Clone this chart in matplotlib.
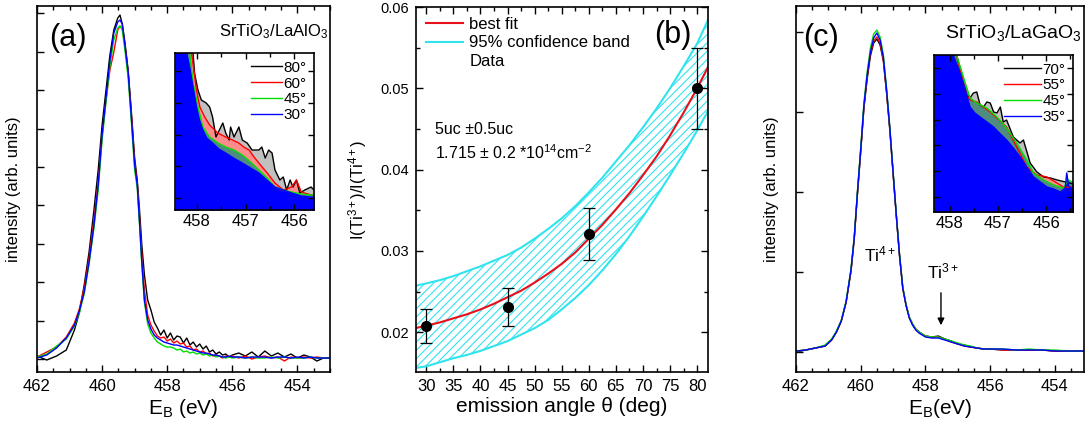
import numpy as np
import matplotlib
matplotlib.use('Agg')
import matplotlib.pyplot as plt
from matplotlib.lines import Line2D
from matplotlib.ticker import MultipleLocator, FormatStrFormatter, NullFormatter

plt.rcParams['font.family'] = ['Liberation Sans', 'DejaVu Sans']
plt.rcParams['mathtext.fontset'] = 'custom'
plt.rcParams['mathtext.rm'] = 'Liberation Sans'
plt.rcParams['mathtext.it'] = 'Liberation Sans:italic'
plt.rcParams['mathtext.bf'] = 'Liberation Sans:bold'
plt.rcParams['hatch.linewidth'] = 0.8

# ---------------- Panel (a) : SrTiO3/LaAlO3 spectra ----------------
E_a = [462.0, 461.7, 461.4, 461.1, 460.85, 460.7, 460.55, 460.4, 460.25, 460.12,
       460.0, 459.88, 459.76, 459.64, 459.52, 459.45, 459.38, 459.3, 459.2, 459.1,
       459.0, 458.92, 458.85, 458.78, 458.7, 458.6, 458.5, 458.4, 458.3, 458.2,
       458.1, 458.0, 457.9, 457.8, 457.7, 457.6, 457.5, 457.4, 457.3, 457.2,
       457.1, 457.0, 456.9, 456.8, 456.7, 456.6, 456.5, 456.4, 456.3, 456.2,
       456.1, 456.0, 455.8, 455.6, 455.4, 455.2, 455.0, 454.8, 454.6, 454.4,
       454.2, 454.0, 453.8, 453.6, 453.4, 453.2, 453.0]
I_a_80 = [16, 12, 16, 22, 42, 59, 87, 120, 162, 202, 247, 282, 317, 342, 354, 357, 348, 330, 302, 260,
          214, 192, 162, 127, 97, 72, 62, 50, 44, 37, 42, 34, 39, 32, 36, 35, 29, 34, 27, 30,
          25, 28, 23, 26, 20, 22, 18, 20, 17, 18, 15, 17, 19, 16, 20, 15, 21, 16, 19, 15,
          18, 14, 17, 15, 11, 14, 14]
I_a_60 = [15, 20, 25, 35, 49, 63, 84, 114, 152, 189, 237, 272, 302, 320, 342, 346, 344, 327, 300, 257,
          210, 189, 154, 117, 82, 57, 47, 41, 36, 34, 35, 31, 33, 29, 31, 28, 29, 25, 26, 22,
          23, 20, 21, 18, 19, 16, 17, 16, 14, 16, 15, 16, 14, 16, 13, 15, 16, 14, 15, 11,
          15, 14, 15, 14, 15, 14, 14]
I_a_45 = [15, 18, 26, 33, 46, 59, 78, 108, 144, 182, 232, 270, 306, 332, 344, 346, 342, 322, 294, 250,
          202, 184, 147, 107, 70, 48, 39, 34, 30, 28, 26, 25, 25, 24, 22, 23, 20, 21, 19, 20,
          18, 19, 17, 18, 16, 17, 15, 16, 15, 14, 15, 14, 15, 14, 15, 14, 14, 15, 14, 15,
          14, 14, 14, 15, 14, 14, 14]
I_a_30 = [14, 17, 24, 34, 47, 61, 80, 110, 147, 187, 237, 274, 312, 339, 350, 352, 348, 327, 300, 254,
          207, 187, 150, 110, 72, 52, 43, 37, 34, 32, 30, 29, 28, 27, 27, 26, 25, 24, 23, 22,
          21, 20, 19, 19, 18, 17, 17, 16, 15, 15, 16, 15, 15, 14, 15, 15, 15, 14, 15, 15,
          14, 15, 14, 15, 14, 14, 14]

# inset (a) zoom of the Ti3+ region
Ein_a_80 = [458.45, 458.08, 458.05, 457.98, 457.91, 457.81, 457.74, 457.68, 457.61, 457.54,
            457.47, 457.41, 457.34, 457.31, 457.24, 457.14, 457.07, 456.97, 456.87, 456.73,
            456.67, 456.60, 456.53, 456.46, 456.40, 456.30, 456.23, 456.16, 456.09, 456.03,
            455.96, 455.89, 455.79, 455.66, 455.6]
Iin_a_80 = [200, 157, 137, 120, 110, 107, 103, 93, 73, 80, 87, 77, 70, 83, 73, 83, 70, 67, 60, 60,
            63, 52, 60, 57, 40, 30, 33, 20, 30, 23, 30, 17, 20, 23, 20]
Ein_a_60 = [458.45, 458.11, 458.01, 457.94, 457.84, 457.74, 457.57, 457.41, 457.27, 457.14, 457.04,
            456.93, 456.83, 456.73, 456.56, 456.40, 456.23, 456.06, 455.96, 455.86, 455.66, 455.6]
Iin_a_60 = [200, 157, 120, 103, 93, 85, 77, 73, 70, 67, 63, 60, 53, 47, 37, 27, 20, 23, 30, 18, 15, 15]
Ein_a_45 = [458.45, 458.15, 458.08, 457.98, 457.88, 457.74, 457.57, 457.41, 457.24, 457.07,
            456.90, 456.73, 456.56, 456.40, 456.23, 456.06, 455.86, 455.66, 455.6]
Iin_a_45 = [200, 157, 127, 103, 83, 73, 67, 63, 60, 55, 48, 40, 32, 23, 20, 18, 16, 15, 15]
Ein_a_30 = [458.45, 458.21, 458.14, 458.08, 458.01, 457.95, 457.88, 457.80, 457.68, 457.55, 457.41,
            457.25, 457.07, 456.90, 456.73, 456.57, 456.40, 456.23, 456.06, 455.86, 455.66, 455.6]
Iin_a_30 = [200, 157, 140, 123, 103, 90, 80, 72, 67, 61, 57, 52, 47, 42, 37, 30, 23, 20, 17, 14, 13, 13]
labels_a = ['80°', '60°', '45°', '30°']

# ---------------- Panel (b) : ratio vs emission angle ----------------
theta_data = [30, 45, 60, 80]
ratio_data = [0.0208, 0.0231, 0.0321, 0.0500]
ratio_err = [0.0021, 0.0023, 0.0032, 0.0050]
theta_fit = [28, 30, 32.5, 35, 37.5, 40, 42.5, 45, 47.5, 50, 52.5, 55, 57.5, 60,
             62.5, 65, 67.5, 70, 72.5, 75, 77.5, 80, 82]
ratio_fit = [0.0205, 0.0208, 0.0212, 0.0217, 0.0222, 0.0228, 0.0235, 0.0243, 0.0251, 0.0261,
             0.0272, 0.0284, 0.0298, 0.0315, 0.0332, 0.0351, 0.0371, 0.0393, 0.0416, 0.0442,
             0.0470, 0.0500, 0.0526]
band_upper = [0.0257, 0.0260, 0.0264, 0.0269, 0.0275, 0.0281, 0.0288, 0.0295, 0.0304, 0.0315,
              0.0327, 0.0340, 0.0355, 0.0372, 0.0390, 0.0410, 0.0430, 0.0452, 0.0475, 0.0500,
              0.0527, 0.0555, 0.0584]
band_lower = [0.0156, 0.0158, 0.0163, 0.0168, 0.0172, 0.0177, 0.0183, 0.0189, 0.0197, 0.0205,
              0.0215, 0.0228, 0.0242, 0.0258, 0.0276, 0.0296, 0.0318, 0.0342, 0.0367, 0.0393,
              0.0420, 0.0448, 0.0472]

# ---------------- Panel (c) : SrTiO3/LaGaO3 spectra ----------------
E_c = [462.0, 461.7, 461.4, 461.1, 460.9, 460.75, 460.6, 460.45, 460.3, 460.2, 460.1, 460.0,
       459.9, 459.8, 459.7, 459.6, 459.5, 459.4, 459.3, 459.2, 459.1, 459.0, 458.9, 458.8,
       458.7, 458.6, 458.5, 458.4, 458.3, 458.2, 458.1, 458.0, 457.8, 457.6, 457.4, 457.2,
       457.0, 456.8, 456.6, 456.4, 456.2, 456.0, 455.6, 455.2, 454.8, 454.4, 454.0, 453.6, 453.0]
I_c_70 = [20, 22, 24, 26, 32, 40, 51, 70, 101, 133, 178, 220, 264, 293, 316, 329, 333, 327, 311, 279,
          242, 199, 156, 116, 84, 67, 55, 48, 43, 40, 38, 36, 35, 36, 33, 31, 28, 27, 25, 24,
          23, 23, 22, 22, 22, 22, 21, 21, 21]
I_c_55 = [21, 22, 24, 26, 32, 40, 51, 70, 101, 133, 179, 221, 265, 295, 318, 331, 335, 329, 312, 280,
          243, 199, 157, 117, 84, 67, 55, 48, 43, 40, 38, 36, 35, 35, 33, 30, 28, 26, 25, 24,
          23, 23, 22, 22, 22, 22, 21, 21, 21]
I_c_45 = [21, 22, 24, 27, 33, 41, 52, 71, 103, 135, 181, 224, 269, 300, 324, 338, 342, 335, 317, 284,
          245, 201, 158, 118, 85, 68, 55, 48, 43, 40, 38, 36, 35, 35, 33, 31, 29, 27, 26, 24,
          23, 23, 23, 22, 23, 22, 22, 21, 21]
I_c_35 = [21, 22, 24, 26, 32, 40, 51, 70, 102, 134, 180, 222, 267, 297, 320, 334, 339, 332, 315, 282,
          244, 200, 157, 117, 84, 67, 54, 47, 42, 39, 37, 35, 34, 34, 32, 30, 28, 26, 25, 24,
          23, 23, 23, 22, 22, 22, 21, 21, 21]

Ein_c_70 = [458.33, 457.86, 457.72, 457.65, 457.58, 457.51, 457.44, 457.37, 457.30, 457.23,
            457.16, 457.09, 457.02, 456.95, 456.89, 456.82, 456.68, 456.54, 456.47, 456.33,
            456.19, 456.05, 455.91, 455.77, 455.43]
Iin_c_70 = [200, 157, 129, 117, 114, 119, 120, 107, 105, 110, 109, 100, 99, 105, 90, 92, 75, 69, 72, 49,
            40, 35, 34, 32, 28]
Ein_c_55 = [458.33, 457.86, 457.72, 457.65, 457.58, 457.44, 457.30, 457.16, 457.02, 456.82,
            456.61, 456.40, 456.19, 455.98, 455.77, 455.64, 455.43]
Iin_c_55 = [200, 157, 129, 117, 112, 110, 105, 100, 94, 85, 65, 45, 37, 35, 29, 25, 25]
Ein_c_45 = [458.33, 457.86, 457.75, 457.68, 457.58, 457.44, 457.23, 457.02, 456.82, 456.61,
            456.40, 456.26, 456.05, 455.84, 455.64, 455.53, 455.43]
Iin_c_45 = [200, 157, 140, 129, 114, 109, 104, 95, 84, 69, 52, 39, 32, 27, 24, 32, 29]
Ein_c_35 = [458.33, 457.93, 457.79, 457.68, 457.58, 457.48, 457.37, 457.23, 457.09, 456.95,
            456.82, 456.68, 456.54, 456.40, 456.26, 456.12, 455.98, 455.84, 455.70, 455.60,
            455.57, 455.53, 455.43]
Iin_c_35 = [200, 157, 139, 122, 105, 99, 95, 90, 85, 78, 72, 64, 55, 45, 35, 30, 25, 23, 20, 24, 39, 26, 22]
labels_c = ['70°', '55°', '45°', '35°']

line_colors = ['black', '#ff0000', '#00e000', '#0000ff']
fill_colors = ['#c0c0c0', '#ff8c8c', '#4f8c80', '#0000ff']

fig = plt.figure(figsize=(10.85, 4.28), dpi=100)
axA = fig.add_axes([0.0341, 0.1308, 0.2700, 0.8551])
axB = fig.add_axes([0.3834, 0.1308, 0.2691, 0.8528])
axC = fig.add_axes([0.7336, 0.1308, 0.2655, 0.8551])


def style(ax, right=False):
    for sp in ax.spines.values():
        sp.set_linewidth(1.2)
    ax.tick_params(which='both', direction='in', top=True, right=right, width=1.0)
    ax.tick_params(which='major', length=5, labelsize=12, pad=5)
    ax.tick_params(which='minor', length=3)


# ---- (a)
for I, c in zip([I_a_80, I_a_60, I_a_45, I_a_30], line_colors):
    axA.plot(E_a, I, color=c, lw=1.0)
axA.set_xlim(462, 453)
axA.set_ylim(0, 366)
axA.xaxis.set_major_locator(MultipleLocator(2))
axA.xaxis.set_minor_locator(MultipleLocator(0.5))
axA.set_yticks(np.arange(13, 362, 38.4))
axA.yaxis.set_major_formatter(NullFormatter())
style(axA)
axA.set_xlabel('E$_\\mathrm{B}$ (eV)', fontsize=15, labelpad=2)
axA.set_ylabel('intensity (arb. units)', fontsize=12)
axA.yaxis.set_label_coords(-0.055, 0.5)
axA.text(0.04, 0.955, '(a)', transform=axA.transAxes, fontsize=22, va='top', ha='left')
axA.text(0.995, 0.955, 'SrTiO$_3$/LaAlO$_3$', transform=axA.transAxes, fontsize=12, va='top', ha='right')

insA = fig.add_axes([0.1613, 0.5093, 0.1281, 0.3668])
ins_a = [(Ein_a_80, Iin_a_80), (Ein_a_60, Iin_a_60), (Ein_a_45, Iin_a_45), (Ein_a_30, Iin_a_30)]
for (E, I), lc, fc in zip(ins_a, line_colors, fill_colors):
    insA.fill_between(E, I, 0, color=fc, lw=0)
handles = []
for (E, I), lc, lab in zip(ins_a, line_colors, labels_a):
    h, = insA.plot(E, I, color=lc, lw=1.0, label=lab)
    handles.append(h)
insA.set_xlim(458.45, 455.6)
insA.set_ylim(0, 157)
insA.xaxis.set_major_locator(MultipleLocator(1))
insA.xaxis.set_minor_locator(MultipleLocator(0.5))
insA.set_yticks(np.arange(12, 157, 31.7))
insA.yaxis.set_major_formatter(NullFormatter())
style(insA, right=True)
insA.tick_params(which='major', length=4, pad=3)
insA.legend(handles=handles, loc='upper right', frameon=False, fontsize=11, handlelength=2.0,
            handletextpad=0.1, labelspacing=0.12, borderaxespad=0.2, borderpad=0.3)

# ---- (b)
axB.fill_between(theta_fit, band_lower, band_upper, facecolor='none', edgecolor='#30e4ee',
                 hatch='////', lw=0)
axB.plot(theta_fit, band_upper, color='#30e4ee', lw=1.5)
axB.plot(theta_fit, band_lower, color='#30e4ee', lw=1.5)
axB.plot(theta_fit, ratio_fit, color='#e8101a', lw=1.5)
axB.errorbar(theta_data, ratio_data, yerr=ratio_err, fmt='o', color='black', ms=7,
             elinewidth=0.9, capsize=4, capthick=0.9, zorder=5)
axB.set_xlim(28.1, 82)
axB.set_ylim(0.0151, 0.06)
axB.xaxis.set_major_locator(MultipleLocator(5))
axB.xaxis.set_minor_locator(MultipleLocator(2.5))
axB.yaxis.set_major_locator(MultipleLocator(0.01))
axB.yaxis.set_minor_locator(MultipleLocator(0.005))
axB.yaxis.set_major_formatter(FormatStrFormatter('%.2f'))
style(axB, right=True)
axB.tick_params(axis='y', which='major', labelsize=10.5)
axB.set_xlabel('emission angle θ (deg)', fontsize=15, labelpad=2)
axB.set_ylabel('I(Ti$^{3+}$)/I(Ti$^{4+}$)', fontsize=12)
axB.yaxis.set_label_coords(-0.16, 0.5)
axB.text(0.815, 0.965, '(b)', transform=axB.transAxes, fontsize=22, va='top', ha='left')
axB.text(0.065, 0.665, '5uc ±0.5uc', transform=axB.transAxes, fontsize=11.5, va='center')
axB.text(0.065, 0.6, '1.715 ± 0.2 *10$^{14}$cm$^{-2}$', transform=axB.transAxes, fontsize=11.5, va='center')
legB = [Line2D([], [], color='#e8101a', lw=1.5),
        Line2D([], [], color='#30e4ee', lw=1.5),
        Line2D([], [], ls='none', marker='none')]
axB.legend(legB, ['best fit', '95% confidence band', 'Data'], loc='upper left', frameon=False,
           fontsize=12, handlelength=2.2, handletextpad=0.4, labelspacing=0.2,
           borderaxespad=0.3, borderpad=0.3)

# ---- (c)
for I, c in zip([I_c_70, I_c_55, I_c_45, I_c_35], line_colors):
    axC.plot(E_c, I, color=c, lw=1.0)
axC.set_xlim(462, 453.1)
axC.set_ylim(0, 366)
axC.xaxis.set_major_locator(MultipleLocator(2))
axC.xaxis.set_minor_locator(MultipleLocator(0.5))
axC.set_yticks([20, 100, 180, 260, 340])
axC.yaxis.set_major_formatter(NullFormatter())
style(axC)
axC.set_xlabel('E$_\\mathrm{B}$(eV)', fontsize=15, labelpad=2)
axC.set_ylabel('intensity (arb. units)', fontsize=12)
axC.yaxis.set_label_coords(-0.06, 0.5)
axC.text(0.025, 0.955, '(c)', transform=axC.transAxes, fontsize=22, va='top', ha='left')
axC.text(0.99, 0.955, 'SrTiO$_3$/LaGaO$_3$', transform=axC.transAxes, fontsize=14, va='top', ha='right')
axC.text(459.4, 118, 'Ti$^{4+}$', fontsize=12.5, ha='center', va='center')
axC.text(457.45, 101, 'Ti$^{3+}$', fontsize=12.5, ha='center', va='center')
axC.annotate('', xy=(457.52, 44), xytext=(457.52, 82),
             arrowprops=dict(arrowstyle='-|>', color='black', lw=1.0, mutation_scale=10))

insC = fig.add_axes([0.8608, 0.5047, 0.1281, 0.3668])
ins_c = [(Ein_c_70, Iin_c_70), (Ein_c_55, Iin_c_55), (Ein_c_45, Iin_c_45), (Ein_c_35, Iin_c_35)]
for (E, I), lc, fc in zip(ins_c, line_colors, fill_colors):
    insC.fill_between(E, I, 0, color=fc, lw=0)
handles = []
for (E, I), lc, lab in zip(ins_c, line_colors, labels_c):
    h, = insC.plot(E, I, color=lc, lw=1.0, label=lab)
    handles.append(h)
insC.set_xlim(458.33, 455.44)
insC.set_ylim(0, 157)
insC.xaxis.set_major_locator(MultipleLocator(1))
insC.xaxis.set_minor_locator(MultipleLocator(0.5))
insC.set_yticks(np.arange(15.3, 157, 25.7))
insC.yaxis.set_major_formatter(NullFormatter())
style(insC, right=True)
insC.tick_params(which='major', length=4, pad=3)
insC.legend(handles=handles, loc='upper right', frameon=False, fontsize=11, handlelength=2.4,
            handletextpad=0.1, labelspacing=0.12, borderaxespad=0.2, borderpad=0.3)

fig.savefig('out.png', dpi=100)
